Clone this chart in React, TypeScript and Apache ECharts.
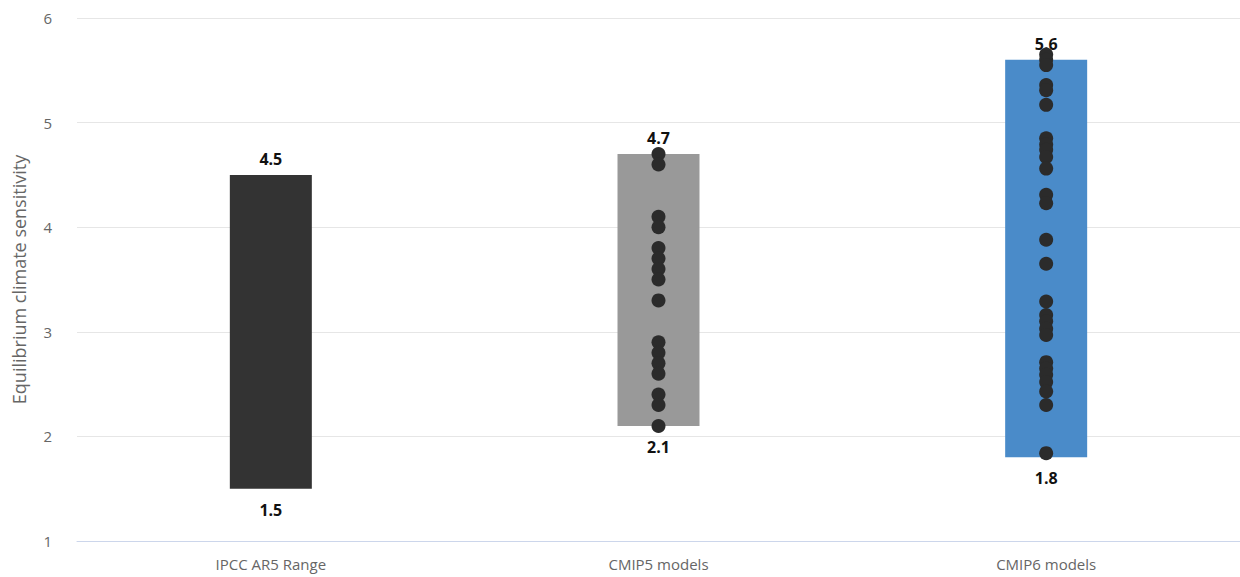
import React, { useEffect, useRef } from "react";
import * as echarts from "echarts";

const categories = ["IPCC AR5 Range", "CMIP5 models", "CMIP6 models"];
const lowValues = [1.5, 2.1, 1.8];
const highValues = [4.5, 4.7, 5.6];
const barColors = ["#333333", "#999999", "#4a8bc9"];
const cmip5Models = [4.7, 4.6, 4.1, 4.0, 3.8, 3.7, 3.6, 3.5, 3.3, 2.9, 2.8, 2.7, 2.6, 2.4, 2.3, 2.1];
const cmip6Models = [
  5.65, 5.6, 5.55, 5.36, 5.31, 5.17, 4.85, 4.79, 4.74, 4.67, 4.56, 4.31, 4.23, 3.88, 3.65,
  3.29, 3.16, 3.1, 3.03, 2.97, 2.71, 2.65, 2.59, 2.52, 2.43, 2.3, 1.84,
];
const yTicks = [1, 2, 3, 4, 5, 6];

const labelFont = '"Open Sans", sans-serif';

export default function App() {
  const ref = useRef<HTMLDivElement>(null);
  useEffect(() => {
    if (!ref.current) return;
    const chart = echarts.init(ref.current, null, { renderer: "svg" });
    const scatterData = [
      ...cmip5Models.map((v) => [categories[1], v]),
      ...cmip6Models.map((v) => [categories[2], v]),
    ];
    chart.setOption({
      animation: false,
      backgroundColor: "#ffffff",
      grid: { left: 77, right: -4, top: 18, bottom: 36, containLabel: false },
      xAxis: {
        type: "category",
        data: categories,
        axisTick: { show: false },
        axisLine: { lineStyle: { color: "#ccd6eb", width: 1 } },
        axisLabel: { color: "#666666", fontSize: 15, fontFamily: labelFont, margin: 15 },
        splitLine: { show: false },
      },
      yAxis: {
        type: "value",
        min: yTicks[0],
        max: yTicks[yTicks.length - 1],
        interval: 1,
        name: "Equilibrium climate sensitivity",
        nameLocation: "middle",
        nameGap: 49,
        nameTextStyle: { color: "#666666", fontSize: 18, fontFamily: labelFont },
        axisLine: { show: false },
        axisTick: { show: false },
        axisLabel: { color: "#666666", fontSize: 15, fontFamily: labelFont, margin: 25 },
        splitLine: { lineStyle: { color: "#e6e6e6", width: 1 } },
      },
      series: [
        {
          type: "bar",
          stack: "range",
          barWidth: 82,
          data: lowValues,
          itemStyle: { color: "rgba(0,0,0,0)" },
          label: {
            show: true,
            position: "insideTop",
            distance: 13,
            color: "#111111",
            fontWeight: "bold",
            fontSize: 16,
            fontFamily: labelFont,
            formatter: (p: any) => String(lowValues[p.dataIndex]),
          },
          silent: true,
        },
        {
          type: "bar",
          stack: "range",
          barWidth: 82,
          data: highValues.map((h, i) => ({
            value: +(h - lowValues[i]).toFixed(2),
            itemStyle: { color: barColors[i] },
          })),
          label: {
            show: true,
            position: "top",
            distance: 8,
            color: "#111111",
            fontWeight: "bold",
            fontSize: 16,
            fontFamily: labelFont,
            formatter: (p: any) => String(highValues[p.dataIndex]),
          },
        },
        {
          type: "scatter",
          data: scatterData,
          symbolSize: 14,
          itemStyle: { color: "#2b2b2b", opacity: 1 },
          z: 5,
        },
      ],
    });
    return () => chart.dispose();
  }, []);
  return <div ref={ref} style={{ width: 1240, height: 577, position: "absolute", left: 0, top: 0 }} />;
}
